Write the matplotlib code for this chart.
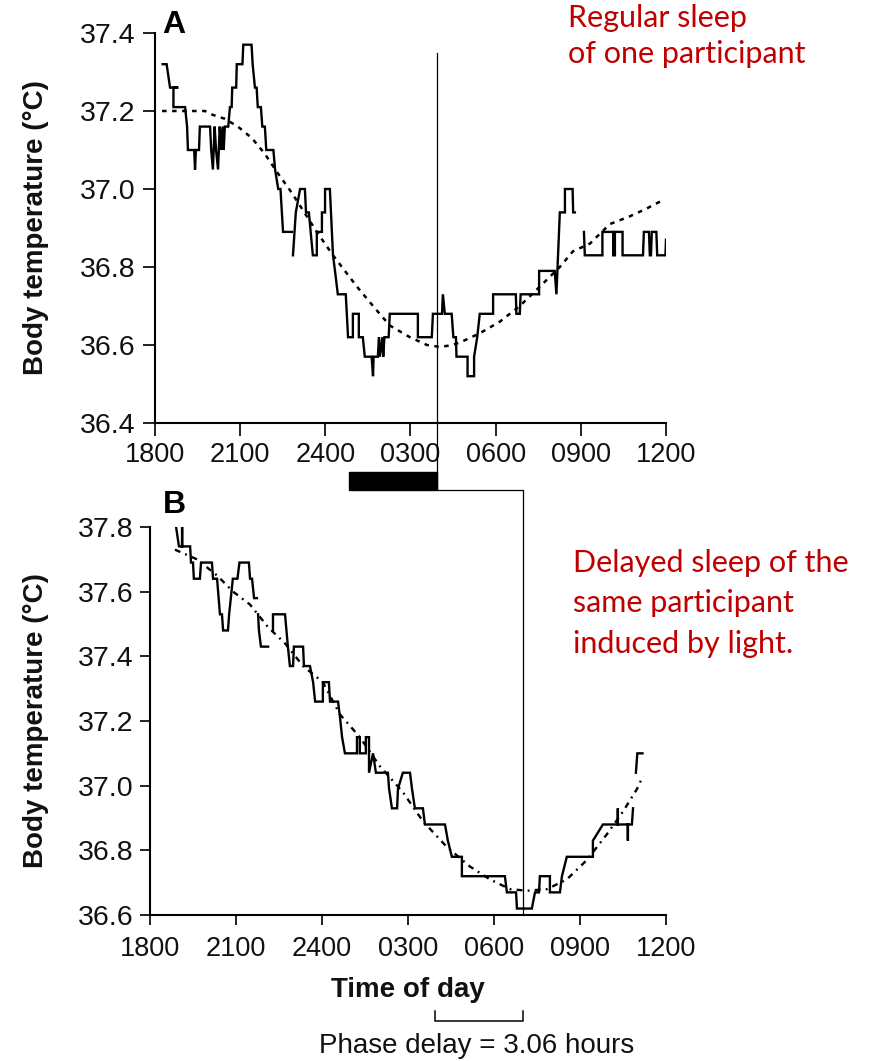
import numpy as np
import matplotlib
matplotlib.use("Agg")
import matplotlib.pyplot as plt
from matplotlib.patches import Rectangle
from matplotlib.lines import Line2D
from matplotlib.transforms import blended_transform_factory

nan = np.nan

# ---- Panel A: regular sleep (hours since 00:00 of day 1, degrees C) ----
a_time = [18.27, 18.41, 18.53, 18.82, 18.65, 18.65, 19.06, 19.13, 19.16, 19.38, 19.41, 19.44,
          19.55, 19.58, 19.94, 19.98, 20.04, 20.10, 20.15, 20.22, 20.28, 20.33, 20.38, 20.42,
          20.46, 20.58, 20.64, 20.70, 20.72, 20.86, 20.88, 21.08, 21.11, 21.40, 21.44, 21.52,
          21.58, 21.62, 21.73, 21.78, 21.87, 21.92, 22.17, 22.23, 22.34, 22.42, 22.51, 22.82,
          nan,
          22.86, 22.96, 23.11, 23.28, 23.32, 23.42, 23.56, 23.70, 23.70, 23.88, 23.88, 23.99,
          23.99, 24.16, 24.20, 24.27, 24.34, 24.44, 24.72, 24.80, 24.97, 24.97, 25.18, 25.18,
          25.32, 25.39, 25.63, 25.68, 25.70, 25.85, 25.89, 25.92, 26.01, 26.04, 26.08, 26.23,
          26.27, 27.26, 27.26, 27.75, 27.79, 28.11, 28.14, 28.21, 28.45, 28.51, 28.60, 28.62,
          29.01, 29.01, 29.24, 29.24, 29.35, 29.44, 29.91, 29.91, 30.71, 30.73, 30.85, 30.88,
          31.53, 31.53, 32.08, 32.14, 32.26, 32.44, 32.44, 32.71, 32.73, 32.79,
          nan,
          33.11, 33.14, 33.76, 33.76, 34.14, 34.14, 34.20, 34.20, 34.47, 34.47, 35.19, 35.22,
          35.40, 35.43, 35.47, 35.50, 35.66, 35.69, 35.98, 36.00]
a_temp = [37.32, 37.32, 37.26, 37.26, 37.26, 37.21, 37.21, 37.16, 37.10, 37.10, 37.05, 37.10,
          37.10, 37.16, 37.16, 37.10, 37.05, 37.16, 37.10, 37.05, 37.16, 37.10, 37.16, 37.10,
          37.16, 37.16, 37.21, 37.21, 37.26, 37.26, 37.32, 37.32, 37.37, 37.37, 37.32, 37.26,
          37.26, 37.21, 37.21, 37.16, 37.16, 37.10, 37.10, 37.05, 37.00, 37.00, 36.89, 36.89,
          nan,
          36.83, 36.94, 37.00, 37.00, 36.94, 36.94, 36.83, 36.83, 36.89, 36.89, 36.94, 36.94,
          37.00, 37.00, 36.94, 36.83, 36.79, 36.73, 36.73, 36.62, 36.62, 36.68, 36.68, 36.62,
          36.62, 36.57, 36.57, 36.52, 36.57, 36.57, 36.62, 36.57, 36.62, 36.57, 36.62, 36.62,
          36.68, 36.68, 36.62, 36.62, 36.68, 36.68, 36.73, 36.68, 36.68, 36.62, 36.62, 36.57,
          36.57, 36.52, 36.52, 36.57, 36.62, 36.68, 36.68, 36.73, 36.73, 36.68, 36.68, 36.73,
          36.73, 36.79, 36.79, 36.73, 36.94, 36.94, 37.00, 37.00, 36.94, 36.94,
          nan,
          36.89, 36.83, 36.83, 36.89, 36.89, 36.83, 36.83, 36.89, 36.89, 36.83, 36.83, 36.89,
          36.89, 36.83, 36.83, 36.89, 36.89, 36.83, 36.83, 36.87]

a_fit_time = [18.25, 19.76, 20.04, 20.46, 20.92, 21.42, 21.87, 22.33, 22.82, 23.70, 24.27,
              25.11, 25.68, 26.27, 26.98, 27.58, 28.04, 28.49, 28.85, 29.44, 30.15, 30.85,
              31.56, 32.26, 32.72, 33.32, 34.02, 34.73, 35.32, 35.85]
a_fit_temp = [37.20, 37.20, 37.19, 37.18, 37.16, 37.13, 37.09, 37.04, 36.99, 36.89, 36.83,
              36.75, 36.70, 36.65, 36.62, 36.60, 36.595, 36.60, 36.61, 36.63, 36.66, 36.70,
              36.75, 36.80, 36.84, 36.86, 36.91, 36.93, 36.95, 36.97]

# ---- Panel B: sleep delayed by light ----
b_time = [18.91, 19.01, 19.12, 19.12, 19.12, 19.40, 19.43, 19.50, 19.53, 19.74, 19.78, 20.16,
          20.20, 20.34, 20.44, 20.51, 20.55, 20.72, 20.76, 20.89, 21.05, 21.12, 21.45, 21.49,
          21.56, 21.63, 21.73,
          nan,
          21.77, 21.80, 21.87, 22.12,
          nan,
          22.29, 22.29, 22.71, 22.81, 22.88, 22.99, 23.02, 23.34, 23.37, 23.58, 23.69, 23.76,
          24.03, 24.03, 24.24, 24.28, 24.56, 24.63, 24.70, 24.80, 25.22, 25.22, 25.32, 25.32,
          25.53, 25.53, 25.64, 25.64, 25.78, 25.88, 26.30, 26.34, 26.44, 26.62, 26.65, 26.82,
          27.07, 27.14, 27.24, 27.52, 27.59, 28.29, 28.39, 28.53, 28.88, 28.88, 30.38, 30.45,
          30.77, 30.80, 31.32, 31.43, 31.57, 31.60, 31.95, 31.95, 32.30, 32.37, 32.54, 33.45,
          33.45, 33.80, 34.32, 34.32, 34.32, 34.67, 34.67, 34.67, 34.81, 34.85,
          nan,
          34.95, 35.00, 35.18]
b_temp = [37.80, 37.74, 37.74, 37.80, 37.74, 37.74, 37.69, 37.69, 37.64, 37.64, 37.69, 37.69,
          37.64, 37.64, 37.53, 37.53, 37.48, 37.48, 37.53, 37.64, 37.64, 37.69, 37.69, 37.64,
          37.64, 37.58, 37.58,
          nan,
          37.53, 37.48, 37.43, 37.43,
          nan,
          37.48, 37.53, 37.53, 37.43, 37.37, 37.37, 37.43, 37.43, 37.37, 37.37, 37.32, 37.26,
          37.26, 37.32, 37.32, 37.26, 37.26, 37.21, 37.15, 37.10, 37.10, 37.15, 37.15, 37.10,
          37.10, 37.15, 37.15, 37.04, 37.10, 37.04, 37.04, 36.99, 36.93, 36.93, 36.99, 37.04,
          37.04, 36.99, 36.93, 36.93, 36.88, 36.88, 36.83, 36.78, 36.78, 36.72, 36.72, 36.67,
          36.67, 36.62, 36.62, 36.67, 36.67, 36.72, 36.72, 36.67, 36.67, 36.72, 36.78, 36.78,
          36.83, 36.88, 36.88, 36.93, 36.88, 36.88, 36.83, 36.88, 36.88, 36.93,
          nan,
          37.04, 37.10, 37.10]

b_fit_time = [18.87, 19.64, 20.34, 20.90, 21.49, 22.12, 22.71, 23.34, 24.03, 24.63, 25.32,
              26.02, 26.82, 27.52, 28.36, 29.16, 29.86, 30.56, 31.15, 31.85, 32.54, 33.24,
              33.94, 34.50, 34.99, 35.20]
b_fit_temp = [37.73, 37.70, 37.65, 37.60, 37.56, 37.49, 37.44, 37.37, 37.32, 37.22, 37.15,
              37.06, 36.98, 36.89, 36.81, 36.75, 36.71, 36.68, 36.675, 36.68, 36.71, 36.77,
              36.85, 36.92, 36.99, 37.03]

hour_ticks = [18, 21, 24, 27, 30, 33, 36]
hour_labels = ["1800", "2100", "2400", "0300", "0600", "0900", "1200"]
a_yticks = [36.4, 36.6, 36.8, 37.0, 37.2, 37.4]
b_yticks = [36.6, 36.8, 37.0, 37.2, 37.4, 37.6, 37.8]

a_min_time = 27.95          # temperature minimum, regular sleep
phase_delay = 3.06          # hours
b_min_time = a_min_time + phase_delay
sleep_start, sleep_end = 24.85, a_min_time

RED = "#C00000"
INK = "#111111"
plt.rcParams['font.family'] = ['Liberation Sans', 'DejaVu Sans']

W, H = 875, 1061
fig = plt.figure(figsize=(W / 100, H / 100), dpi=100)


def box(left, top, right, bottom):
    return [left / W, 1 - bottom / H, (right - left) / W, (bottom - top) / H]


axA = fig.add_axes(box(155, 33, 666, 423))
axB = fig.add_axes(box(150, 527, 666, 915))


def style(ax, yticks, tick_len, xpad, ylab_x):
    for s in ('top', 'right'):
        ax.spines[s].set_visible(False)
    for s in ('left', 'bottom'):
        ax.spines[s].set_linewidth(1.5)
    ax.set_xlim(18, 36)
    ax.set_xticks(hour_ticks)
    ax.set_xticklabels(hour_labels)
    ax.set_ylim(yticks[0], yticks[-1])
    ax.set_yticks(yticks)
    ax.set_yticklabels([f"{v:.1f}" for v in yticks])
    ax.tick_params(direction='out', length=tick_len, width=1.3, colors=INK)
    ax.tick_params(axis='x', pad=xpad, labelsize=19.5)
    ax.tick_params(axis='y', pad=5, labelsize=20.5)
    ax.set_ylabel("Body temperature (°C)", fontsize=20, fontweight='bold', color=INK)
    ax.yaxis.set_label_coords(ylab_x, 0.5)


style(axA, a_yticks, 9, 5, -0.207)
style(axB, b_yticks, 7, 8, -0.196)

axA.plot(a_time, a_temp, color='black', lw=1.7, solid_joinstyle='miter')
axA.plot(a_fit_time, a_fit_temp, color='black', lw=1.8, linestyle=(0, (1.8, 2.2)))
axB.plot(b_time, b_temp, color='black', lw=1.7, solid_joinstyle='miter')
axB.plot(b_fit_time, b_fit_temp, color='black', lw=1.7, linestyle=(0, (2.5, 2.2, 0.8, 2.2)))

# sleep episode bar beneath panel A
bar_top, bar_bottom = 36.275, 36.228
axA.add_patch(Rectangle((sleep_start, bar_bottom), sleep_end - sleep_start, bar_top - bar_bottom,
                        facecolor='black', edgecolor='black', clip_on=False))

# line linking the two temperature minima
to_fig = fig.transFigure.inverted().transform
p1 = to_fig(axA.transData.transform((a_min_time, 37.35)))
p2 = to_fig(axA.transData.transform((a_min_time, bar_bottom)))
p4 = to_fig(axB.transData.transform((b_min_time, b_yticks[0])))
p3 = (p4[0], p2[1])
fig.add_artist(Line2D([p1[0], p2[0], p3[0], p4[0]], [p1[1], p2[1], p3[1], p4[1]],
                      transform=fig.transFigure, color='black', lw=0.9))

# phase-delay bracket
bt = blended_transform_factory(axB.transData, fig.transFigure)
y_lo, y_hi = 1 - 1021 / H, 1 - 1011 / H
fig.add_artist(Line2D([a_min_time, a_min_time, b_min_time, b_min_time], [y_hi, y_lo, y_lo, y_hi],
                      transform=bt, color='black', lw=1.1))

fig.text(408 / W, 1 - 997 / H, "Time of day", ha='center', va='baseline',
         fontsize=20, fontweight='bold', color=INK)
fig.text(477 / W, 1 - 1053 / H, f"Phase delay = {phase_delay:.2f} hours", ha='center',
         va='baseline', fontsize=20, color=INK)

fig.text(162 / W, 1 - 33 / H, "A", ha='left', va='baseline', fontsize=23, fontweight='bold')
fig.text(163 / W, 1 - 513 / H, "B", ha='left', va='baseline', fontsize=23, fontweight='bold')

red_font = dict(fontsize=22, color=RED, family=['Lato', 'DejaVu Sans'], ha='left', va='baseline')
for txt, yb in [("Regular sleep", 27), ("of one participant", 63)]:
    fig.text(568 / W, 1 - yb / H, txt, **red_font)
for txt, yb in [("Delayed sleep of the", 572), ("same participant", 612), ("induced by light.", 653)]:
    fig.text(573 / W, 1 - yb / H, txt, **red_font)

fig.savefig("out.png", dpi=100)
